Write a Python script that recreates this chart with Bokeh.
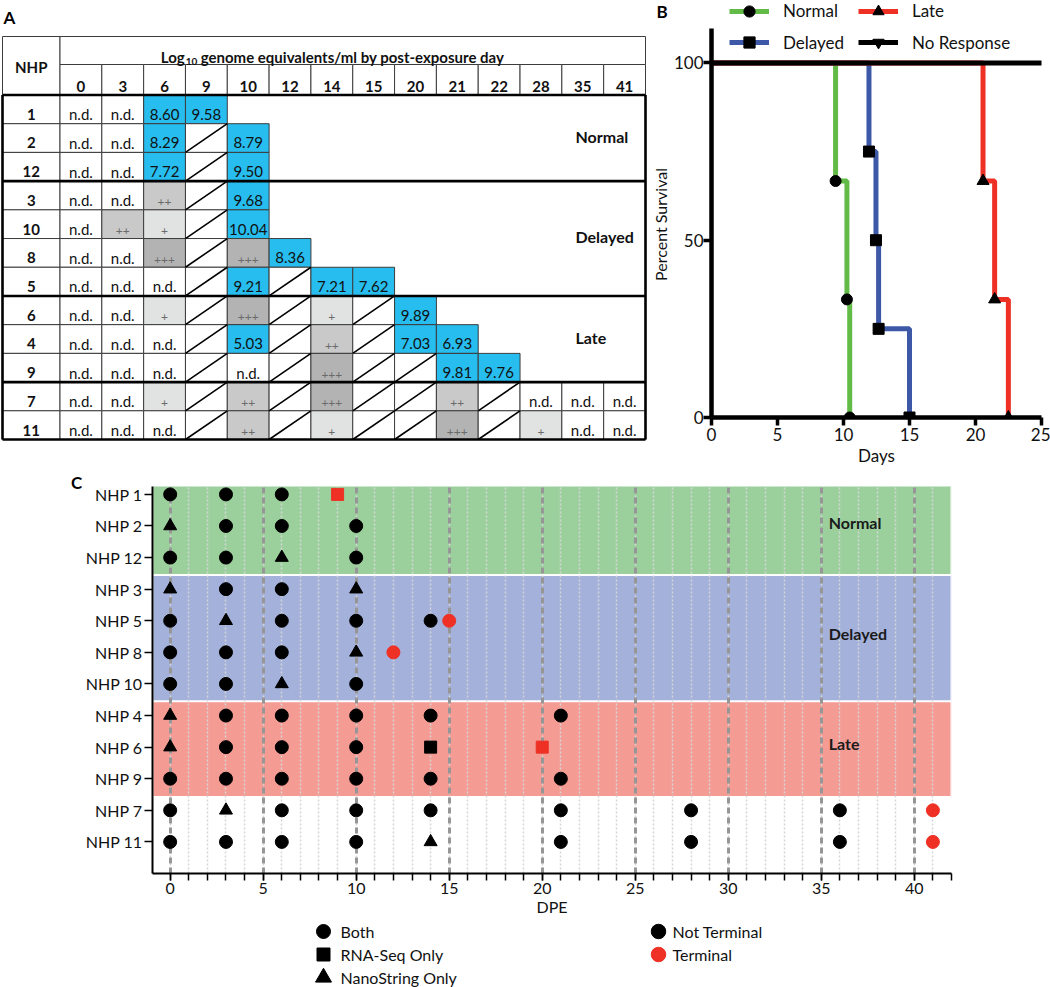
from bokeh.plotting import figure
from bokeh.models import (Range1d, ColumnDataSource, Legend, LegendItem,
                          FixedTicker, SingleIntervalTicker)
from bokeh.layouts import row, column
from bokeh.embed import file_html
from bokeh.resources import INLINE
from bokeh.core.properties import value

FONT = "Lato"

# ---------------- Panel A data ----------------
table_days = [0, 3, 6, 9, 10, 12, 14, 15, 20, 21, 22, 28, 35, 41]
table_nhp = ["1", "2", "12", "3", "10", "8", "5", "6", "4", "9", "7", "11"]
table_group_names = ["Normal", "Delayed", "Late"]
table_group_rows = [3, 4, 3, 2]
table_cells = [
    ["n.d.", "n.d.", "8.60", "9.58"],
    ["n.d.", "n.d.", "8.29", "/", "8.79"],
    ["n.d.", "n.d.", "7.72", "/", "9.50"],
    ["n.d.", "n.d.", "++", "/", "9.68"],
    ["n.d.", "++", "+", "/", "10.04"],
    ["n.d.", "n.d.", "+++", "/", "+++", "8.36"],
    ["n.d.", "n.d.", "n.d.", "/", "9.21", "/", "7.21", "7.62"],
    ["n.d.", "n.d.", "+", "/", "+++", "/", "+", "/", "9.89"],
    ["n.d.", "n.d.", "n.d.", "/", "5.03", "/", "++", "/", "7.03", "6.93"],
    ["n.d.", "n.d.", "n.d.", "/", "n.d.", "/", "+++", "/", "/", "9.81", "9.76"],
    ["n.d.", "n.d.", "+", "/", "++", "/", "+++", "/", "/", "++", "/", "n.d.", "n.d.", "n.d."],
    ["n.d.", "n.d.", "n.d.", "/", "++", "/", "+", "/", "/", "+++", "/", "+", "n.d.", "n.d."],
]

# ---------------- Panel B data ----------------
normal_t = [9.4, 10.26, 10.47]
normal_s = [66.7, 33.3, 0.0]
delayed_t = [11.93, 12.46, 12.66, 15.0]
delayed_s = [75.0, 50.0, 25.0, 0.0]
late_t = [20.57, 21.45, 22.49]
late_s = [66.7, 33.3, 0.0]
noresp_t = [41.0]
noresp_s = [100.0]
b_xticks = [0, 5, 10, 15, 20, 25]
b_yticks = [0, 50, 100]

# ---------------- Panel C data ----------------
c_nhp = ["NHP 1", "NHP 2", "NHP 12", "NHP 3", "NHP 5", "NHP 8", "NHP 10",
         "NHP 4", "NHP 6", "NHP 9", "NHP 7", "NHP 11"]
c_days = [
    [0, 3, 6, 9],
    [0, 3, 6, 10],
    [0, 3, 6, 10],
    [0, 3, 6, 10],
    [0, 3, 6, 10, 14, 15],
    [0, 3, 6, 10, 12],
    [0, 3, 6, 10],
    [0, 3, 6, 10, 14, 21],
    [0, 3, 6, 10, 14, 20],
    [0, 3, 6, 10, 14, 21],
    [0, 3, 6, 10, 14, 21, 28, 36, 41],
    [0, 3, 6, 10, 14, 21, 28, 36, 41],
]
# B = both, R = RNA-Seq only, N = NanoString only
c_types = ["BBBR", "NBBB", "BBNB", "NBBN", "BNBBBB", "BBBNB", "BBNB",
           "NBBBBB", "NBBBRR", "BBBBBB", "BNBBBBBBB", "BBBBNBBBB"]
c_terminal_day = [9, None, None, None, 15, 12, None, None, 20, None, 41, 41]
c_group_names = ["Normal", "Delayed", "Late"]
c_group_rows = [3, 4, 3, 2]
legend_type_labels = ["Both", "RNA-Seq Only", "NanoString Only"]
legend_term_labels = ["Not Terminal", "Terminal"]

GREEN = "#62BB47"
BLUE = "#3E58A8"
RED = "#EE3124"
CELL_BLUE = "#27BDEF"
PLUS_FILL = {"+": "#E1E2E2", "++": "#C9C9C9", "+++": "#B3B3B3"}
BAND_COLORS = ["#9BD09D", "#A4B1DB", "#F49B93"]


def no_align(fig):
    try:
        fig.frame_align = False
    except Exception:
        pass


def pixel_fig(w, h, y0=0):
    f = figure(width=w, height=h, x_range=Range1d(0, w), y_range=Range1d(y0 + h, y0),
               x_axis_type=None, y_axis_type=None, toolbar_location=None,
               output_backend="svg", min_border=0, outline_line_color=None)
    no_align(f)
    return f


# ======================= Panel A : table =======================
WA, HA = 670, 472
pa = pixel_fig(WA, HA)

TX0, TX1 = 2.0, 645.0
NHPX = 59.5
TY0, TYM, TYH, TY1 = 36.0, 64.0, 94.5, 439.0
ncol = len(table_days)
nrow = len(table_nhp)
cw = (TX1 - NHPX) / ncol
rh = (TY1 - TYH) / nrow
TXT_UP = 9.5
PLUS_UP = 7.5

ql, qr, qt, qb, qf = [], [], [], [], []
vx, vy, vt = [], [], []
px, py, pt = [], [], []
s0x, s0y, s1x, s1y = [], [], [], []

ql.append(TX0); qr.append(NHPX); qt.append(TY0); qb.append(TYH); qf.append("#ffffff")
ql.append(NHPX); qr.append(TX1); qt.append(TY0); qb.append(TYM); qf.append("#ffffff")
for i in range(ncol):
    l = NHPX + i * cw
    ql.append(l); qr.append(l + cw); qt.append(TYM); qb.append(TYH); qf.append("#ffffff")

for j, rc in enumerate(table_cells):
    top = TYH + j * rh
    bot = top + rh
    ql.append(TX0); qr.append(NHPX); qt.append(top); qb.append(bot); qf.append("#ffffff")
    for i, c in enumerate(rc):
        if c == "":
            continue
        l = NHPX + i * cw
        r = l + cw
        fill = "#ffffff"
        if c == "/":
            s0x.append(l); s0y.append(bot); s1x.append(r); s1y.append(top)
        elif c in PLUS_FILL:
            fill = PLUS_FILL[c]
            px.append((l + r) / 2); py.append(bot - PLUS_UP); pt.append(c)
        elif c == "n.d.":
            vx.append((l + r) / 2); vy.append(bot - TXT_UP); vt.append(c)
        else:
            fill = CELL_BLUE
            vx.append((l + r) / 2); vy.append(bot - TXT_UP); vt.append(c)
        ql.append(l); qr.append(r); qt.append(top); qb.append(bot); qf.append(fill)

pa.quad(left=ql, right=qr, top=qt, bottom=qb, fill_color=qf, line_color="#3c3c3c", line_width=1)
pa.segment(x0=s0x, y0=s0y, x1=s1x, y1=s1y, line_color="black", line_width=1.6)

tk_x0, tk_y0, tk_x1, tk_y1 = [], [], [], []
cum = 0
bounds = [0]
for g in table_group_rows:
    cum += g
    bounds.append(cum)
for b in bounds:
    yy = TYH + b * rh
    tk_x0.append(TX0); tk_x1.append(TX1); tk_y0.append(yy); tk_y1.append(yy)
for xx in (TX0, TX1):
    tk_x0.append(xx); tk_x1.append(xx); tk_y0.append(TYH); tk_y1.append(TY1)
pa.segment(x0=tk_x0, y0=tk_y0, x1=tk_x1, y1=tk_y1, line_color="black", line_width=2.6)

pa.text(x=vx, y=vy, text=vt, text_font=value(FONT), text_font_size="15px",
        text_align="center", text_baseline="middle", text_color="#111111")
pa.text(x=px, y=py, text=pt, text_font=value(FONT), text_font_size="12px",
        text_align="center", text_baseline="middle", text_color="#6a6a6a")
pa.text(x=[(TX0 + NHPX) / 2] * nrow, y=[TYH + (j + 1) * rh - TXT_UP for j in range(nrow)],
        text=table_nhp, text_font=value(FONT), text_font_size="15px", text_font_style="bold",
        text_align="center", text_baseline="middle", text_color="#111111")
pa.text(x=[NHPX + (i + 0.5) * cw for i in range(ncol)], y=[TYH - 8.5] * ncol,
        text=[str(d) for d in table_days], text_font=value(FONT), text_font_size="15px",
        text_font_style="bold", text_align="center", text_baseline="middle", text_color="#111111")
pa.text(x=[(TX0 + NHPX) / 2], y=[(TY0 + TYH) / 2 + 1], text=["NHP"], text_font=value(FONT),
        text_font_size="15px", text_font_style="bold", text_align="center",
        text_baseline="middle", text_color="#111111")
tcx = (NHPX + TX1) / 2
pa.text(x=[tcx - 168], y=[TYM - 8], text=["Log"], text_font=value(FONT), text_font_size="15px",
        text_font_style="bold", text_align="right", text_baseline="middle", text_color="#111111")
pa.text(x=[tcx - 167], y=[TYM - 3], text=["10"], text_font=value(FONT), text_font_size="10px",
        text_font_style="bold", text_align="left", text_baseline="middle", text_color="#111111")
pa.text(x=[tcx - 152], y=[TYM - 8], text=["genome equivalents/ml by post-exposure day"],
        text_font=value(FONT), text_font_size="15px", text_font_style="bold",
        text_align="left", text_baseline="middle", text_color="#111111")
gy = []
start = 0
for g in table_group_rows[:3]:
    gy.append(TYH + (start + g / 2) * rh - 2)
    start += g
pa.text(x=[575] * 3, y=gy, text=table_group_names, text_font=value(FONT), text_font_size="16px",
        text_font_style="bold", text_align="left", text_baseline="middle", text_color="#111111")
# panel letters A and B, and the y-axis title of panel B
pa.text(x=[3, 656], y=[17, 11], text=["A", "B"], text_font=value(FONT), text_font_size="17px",
        text_font_style="bold", text_align="left", text_baseline="middle", text_color="black")
pa.text(x=[660], y=[224], text=["Percent Survival"], angle=1.5708, text_font=value(FONT),
        text_font_size="16px", text_align="center", text_baseline="middle", text_color="#111111")

# ======================= Panel B : survival =======================
WB = 1050 - WA
B_FL, B_BOTTOM, B_RIGHT = 40, 55, 9
pb = figure(width=WB, height=HA, x_range=Range1d(0, 25), y_range=Range1d(0, 117.6),
            toolbar_location=None, output_backend="svg",
            min_border_left=B_FL, min_border_right=B_RIGHT, min_border_top=0,
            min_border_bottom=B_BOTTOM, outline_line_color=None)
no_align(pb)
pb.grid.visible = False


def step_xy(t, s):
    return [0.0] + list(t), [100.0] + list(s)


lx, ly = step_xy(normal_t, normal_s)
rn = pb.step(x=lx, y=ly, mode="after", line_color=GREEN, line_width=5)
lx, ly = step_xy(delayed_t, delayed_s)
rd = pb.step(x=lx, y=ly, mode="after", line_color=BLUE, line_width=5)
lx, ly = step_xy(late_t, late_s)
rl = pb.step(x=lx, y=ly, mode="after", line_color=RED, line_width=5)
lx, ly = step_xy(noresp_t, noresp_s)
rr = pb.step(x=lx, y=ly, mode="after", line_color="black", line_width=5)

mn = pb.scatter(normal_t, normal_s, marker="circle", size=11, color="black")
md = pb.scatter(delayed_t, delayed_s, marker="square", size=11, color="black")
ml = pb.scatter(late_t, late_s, marker="triangle", size=12, color="black")
mr = pb.scatter(noresp_t, noresp_s, marker="inverted_triangle", size=12, color="black")

for ax in (pb.xaxis[0], pb.yaxis[0]):
    ax.axis_line_width = 4.5
    ax.major_tick_line_width = 3.5
    ax.major_tick_out = 8
    ax.major_tick_in = 0
    ax.minor_tick_out = 0
    ax.minor_tick_in = 0
    ax.major_label_text_font = FONT
    ax.major_label_text_font_size = "17px"
    ax.major_label_text_color = "#111111"
    ax.axis_label_text_font = FONT
    ax.axis_label_text_font_size = "17px"
    ax.axis_label_text_font_style = "normal"
    ax.axis_label_text_color = "#111111"
pb.xaxis.ticker = FixedTicker(ticks=b_xticks)
pb.yaxis.ticker = FixedTicker(ticks=b_yticks)
pb.yaxis.bounds = (0, 109.7)
pb.xaxis.axis_label = "Days"
pb.xaxis.major_label_standoff = 2
pb.xaxis.axis_label_standoff = 1
pb.yaxis.major_label_standoff = 0

B_FB = HA - B_BOTTOM


def add_legend(fig, fl, fb, label, rends, cx, cy, gw, gh, standoff, fsize, index=None):
    item = LegendItem(label=label, renderers=rends, index=index)
    leg = Legend(items=[item], location=(cx - gw / 2 - fl, fb - (cy + gh / 2)),
                 glyph_width=gw, glyph_height=gh, label_standoff=standoff, label_height=gh,
                 padding=0, margin=0, spacing=0, background_fill_alpha=0, border_line_alpha=0,
                 label_text_font=FONT, label_text_font_size=fsize, label_text_color="#111111")
    fig.add_layout(leg)


add_legend(pb, B_FL, B_FB, "Normal", [rn, mn], 748 - WA, 10.5, 40, 28, 14, "17px")
add_legend(pb, B_FL, B_FB, "Late", [rl, ml], 877 - WA, 10.5, 40, 28, 14, "17px")
add_legend(pb, B_FL, B_FB, "Delayed", [rd, md], 748 - WA, 42, 40, 28, 14, "17px")
add_legend(pb, B_FL, B_FB, "No Response", [rr, mr], 877 - WA, 42, 40, 28, 14, "17px")

# ======================= Panel C : sampling =======================
WCL = 82
WC, HC = 1050 - WCL, 449
XMIN, XMAX = -0.95, 42.0
YMIN, YMAX = -1.0, 11.25
pcl = pixel_fig(WCL, HC, HA)
pcl.text(x=[76], y=[482], text=["C"], text_font=value(FONT), text_font_size="17px",
         text_font_style="bold", text_align="center", text_baseline="middle", text_color="black")

pc = figure(width=WC, height=HC, x_range=Range1d(XMIN, XMAX), y_range=Range1d(YMIN, YMAX),
            toolbar_location=None, output_backend="svg",
            min_border_left=150 - WCL, min_border_right=99, min_border_top=14, min_border_bottom=48,
            outline_line_color=None)
no_align(pc)
nrows_c = len(c_nhp)
row_y = [nrows_c - 1 - r for r in range(nrows_c)]

bl, br, bt, bb = [], [], [], []
start = 0
label_y = []
for g in c_group_rows[:3]:
    ys = row_y[start:start + g]
    bl.append(XMIN); br.append(XMAX)
    bt.append(ys[0] + 0.45); bb.append(ys[-1] - 0.58)
    label_y.append(sum(ys) / len(ys) + 0.1)
    start += g
pc.quad(left=bl, right=br, top=bt, bottom=bb, fill_color=BAND_COLORS, line_color="white",
        line_width=2, level="image")

xt = SingleIntervalTicker(interval=5, num_minor_ticks=5)
pc.xaxis.ticker = xt
pc.xgrid[0].ticker = xt
pc.xgrid.grid_line_color = "#969696"
pc.xgrid.grid_line_width = 3
pc.xgrid.grid_line_dash = "6 4"
pc.xgrid.minor_grid_line_color = "#d5d5d5"
pc.xgrid.minor_grid_line_width = 1.5
pc.xgrid.minor_grid_line_dash = "2 2"
pc.ygrid.visible = False

MARK = {"B": "circle", "R": "square", "N": "triangle"}
MSIZE = {"B": 13, "R": 12, "N": 13}
cx_, cy_, cm_, cc_, cs_ = [], [], [], [], []
for r in range(nrows_c):
    for d, t in zip(c_days[r], c_types[r]):
        term = (c_terminal_day[r] == d)
        cx_.append(d); cy_.append(row_y[r]); cm_.append(MARK[t]); cs_.append(MSIZE[t])
        cc_.append(RED if term else "black")
src = ColumnDataSource(dict(x=cx_, y=cy_, marker=cm_, color=cc_, size=cs_))
pc.scatter(x="x", y="y", marker="marker", size="size", fill_color="color",
           line_color="color", source=src)

pc.text(x=[35.4] * 3, y=label_y, text=c_group_names, text_font=value(FONT),
        text_font_size="16px", text_font_style="bold", text_align="left",
        text_baseline="middle", text_color="#1a1a1a")

pc.yaxis.ticker = FixedTicker(ticks=row_y)
pc.yaxis.major_label_overrides = {row_y[r]: c_nhp[r] for r in range(nrows_c)}
for ax in (pc.xaxis[0], pc.yaxis[0]):
    ax.axis_line_width = 2
    ax.major_tick_line_width = 1.5
    ax.minor_tick_line_width = 1.5
    ax.major_tick_in = 0
    ax.minor_tick_in = 0
    ax.major_label_text_font = FONT
    ax.major_label_text_font_size = "16px"
    ax.major_label_text_color = "#111111"
    ax.axis_label_text_font = FONT
    ax.axis_label_text_font_size = "16px"
    ax.axis_label_text_font_style = "normal"
    ax.axis_label_text_color = "#111111"
pc.yaxis.major_tick_out = 8
pc.yaxis.minor_tick_out = 0
pc.yaxis.major_label_standoff = 2
pc.xaxis.major_tick_out = 7
pc.xaxis.minor_tick_out = 7
pc.xaxis.major_label_standoff = 2
pc.xaxis.axis_label = "DPE"
pc.xaxis.axis_label_standoff = 0

# ======================= Panel C legend =======================
HL = 987 - HA - HC
LY0 = HA + HC
pl = pixel_fig(1050, HL, LY0)
leg_rows = [LY0 + 10, LY0 + 33, LY0 + 56]
pl.scatter(x=[323] * 3, y=leg_rows, marker=["circle", "square", "triangle"],
           size=[14, 13, 16], color="black")
pl.text(x=[340] * 3, y=leg_rows, text=legend_type_labels, text_font=value(FONT),
        text_font_size="16px", text_align="left", text_baseline="middle", text_color="#111111")
pl.scatter(x=[658] * 2, y=leg_rows[:2], marker="circle", size=14.5, color=["black", RED])
pl.text(x=[672] * 2, y=leg_rows[:2], text=legend_term_labels, text_font=value(FONT),
        text_font_size="16px", text_align="left", text_baseline="middle", text_color="#111111")

layout = column(row(column(pa), column(pb)), row(column(pcl), column(pc)), pl)
open("out.html", "w").write(file_html(layout, INLINE, title="NHP figure"))
